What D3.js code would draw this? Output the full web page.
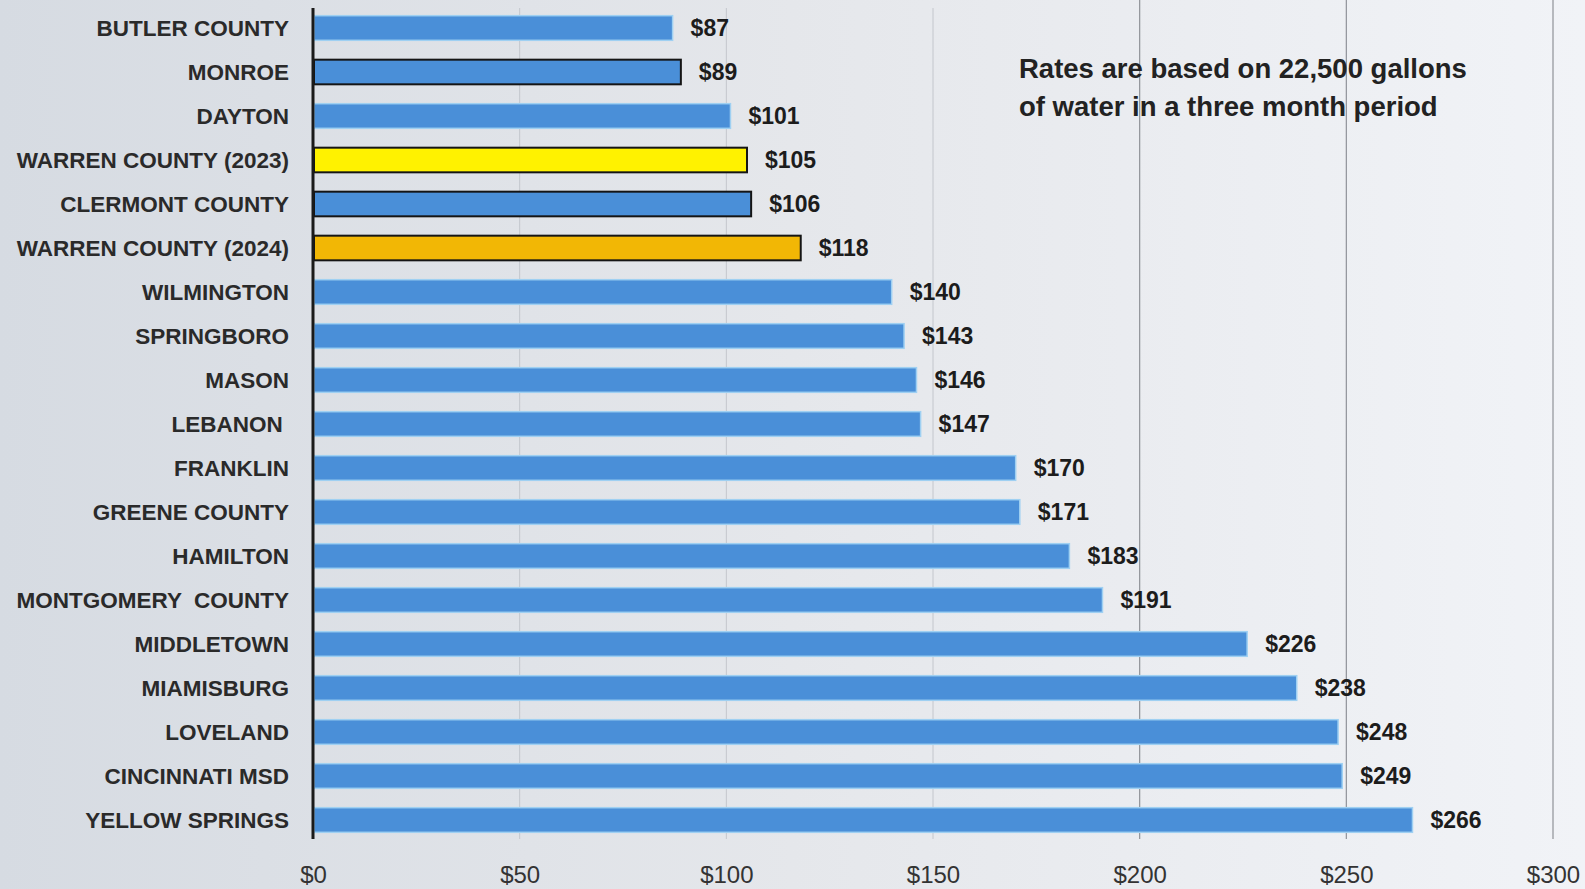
<!DOCTYPE html>
<html><head><meta charset="utf-8">
<script src="https://cdn.jsdelivr.net/npm/d3@7"></script>
<style>
html,body{margin:0;padding:0;overflow:hidden;background:#eceef2;}
svg{display:block;}
text{font-family:"Liberation Sans Narrow","Liberation Sans",Arial,sans-serif;}
</style></head>
<body>
<svg id="chart" width="1585" height="889"></svg>
<script>
const categories = ["BUTLER COUNTY","MONROE","DAYTON","WARREN COUNTY (2023)","CLERMONT COUNTY","WARREN COUNTY (2024)","WILMINGTON","SPRINGBORO","MASON","LEBANON ","FRANKLIN","GREENE COUNTY","HAMILTON","MONTGOMERY  COUNTY","MIDDLETOWN","MIAMISBURG","LOVELAND","CINCINNATI MSD","YELLOW SPRINGS"];
const rates = [87,89,101,105,106,118,140,143,146,147,170,171,183,191,226,238,248,249,266];
const highlight = ["blue","blue-outline","blue","yellow","blue-outline","orange","blue","blue","blue","blue","blue","blue","blue","blue","blue","blue","blue","blue","blue"];
const tickValues = [0,50,100,150,200,250,300];
const note = ["Rates are based on 22,500 gallons","of water in a three month period"];

const svg = d3.select("#chart");
const W = 1585, H = 889;

const defs = svg.append("defs");
const bg = defs.append("linearGradient").attr("id","bg").attr("x1","0").attr("x2","1").attr("y1","0").attr("y2","0");
bg.append("stop").attr("offset","0").attr("stop-color","#d6dbe2");
bg.append("stop").attr("offset","0.5").attr("stop-color","#e5e7eb");
bg.append("stop").attr("offset","1").attr("stop-color","#f1f3f7");
svg.append("rect").attr("width",W).attr("height",H).attr("fill","url(#bg)");

const x = d3.scaleLinear().domain([0,300]).range([313,1553]);
const y = d3.scaleBand().domain(categories).range([6,842]).paddingInner(0.44).paddingOuter(0.22);

// gridlines
svg.append("g").selectAll("line").data(tickValues.slice(1)).join("line")
  .attr("x1",d=>x(d)).attr("x2",d=>x(d))
  .attr("y1",d=> d>=200 ? 0 : 8).attr("y2",839)
  .attr("stroke",d=> d>=200 ? "#8f9298" : "#c3c6cc")
  .attr("stroke-width",d=> d>=200 ? 1.2 : 1);

// bars
const fills = {"blue":"#4a8fd8","blue-outline":"#4a8fd8","yellow":"#fff200","orange":"#f2b705"};
const strokes = {"blue":"#9fd0f2","blue-outline":"#151515","yellow":"#151515","orange":"#151515"};
const data = categories.map((c,i)=>({c, v:rates[i], h:highlight[i]}));

svg.append("g").selectAll("rect").data(data).join("rect")
  .attr("x",x(0)+1)
  .attr("y",d=>y(d.c))
  .attr("width",d=>x(d.v)-x(0)-1)
  .attr("height",y.bandwidth())
  .attr("fill",d=>fills[d.h])
  .attr("stroke",d=>strokes[d.h])
  .attr("stroke-width",d=>d.h==="blue"?1.5:2);

// value labels
svg.append("g").selectAll("text").data(data).join("text")
  .attr("x",d=>x(d.v)+18)
  .attr("y",d=>y(d.c)+y.bandwidth()/2+2)
  .attr("dominant-baseline","middle")
  .attr("font-size",23).attr("font-weight","bold").attr("fill","#1c1c1c")
  .text(d=>"$"+d.v);

// category labels
const yAxis = d3.axisLeft(y).tickSize(0).tickPadding(24);
const ya = svg.append("g").attr("transform",`translate(${x(0)},0)`).call(yAxis);
ya.select(".domain").remove();
ya.selectAll("text").attr("font-size",22.5).attr("font-weight","bold").attr("fill","#2a2a2a")
  .attr("font-family","'Liberation Sans Narrow','Liberation Sans',Arial,sans-serif")
  .style("white-space","pre").attr("dy","0.36em");

// axis line
svg.append("line").attr("x1",x(0)).attr("x2",x(0)).attr("y1",8).attr("y2",839)
  .attr("stroke","#1a1a1a").attr("stroke-width",3);

// x tick labels
const xAxis = d3.axisBottom(x).tickValues(tickValues).tickSize(0).tickPadding(0).tickFormat(d=>"$"+d);
const xa = svg.append("g").attr("transform","translate(0,874)").call(xAxis);
xa.select(".domain").remove();
xa.selectAll("text").attr("font-size",24).attr("fill","#333")
  .attr("font-family","'Liberation Sans Narrow','Liberation Sans',Arial,sans-serif")
  .attr("dy","0.36em").attr("y",0);

// note
svg.append("g").selectAll("text").data(note).join("text")
  .attr("x",1019).attr("y",(d,i)=>71+i*38)
  .attr("dominant-baseline","middle")
  .attr("font-size",27.5).attr("font-weight","bold").attr("fill","#222")
  .attr("font-family","'Open Sans','Liberation Sans',Arial,sans-serif")
  .text(d=>d);
</script>
</body></html>
